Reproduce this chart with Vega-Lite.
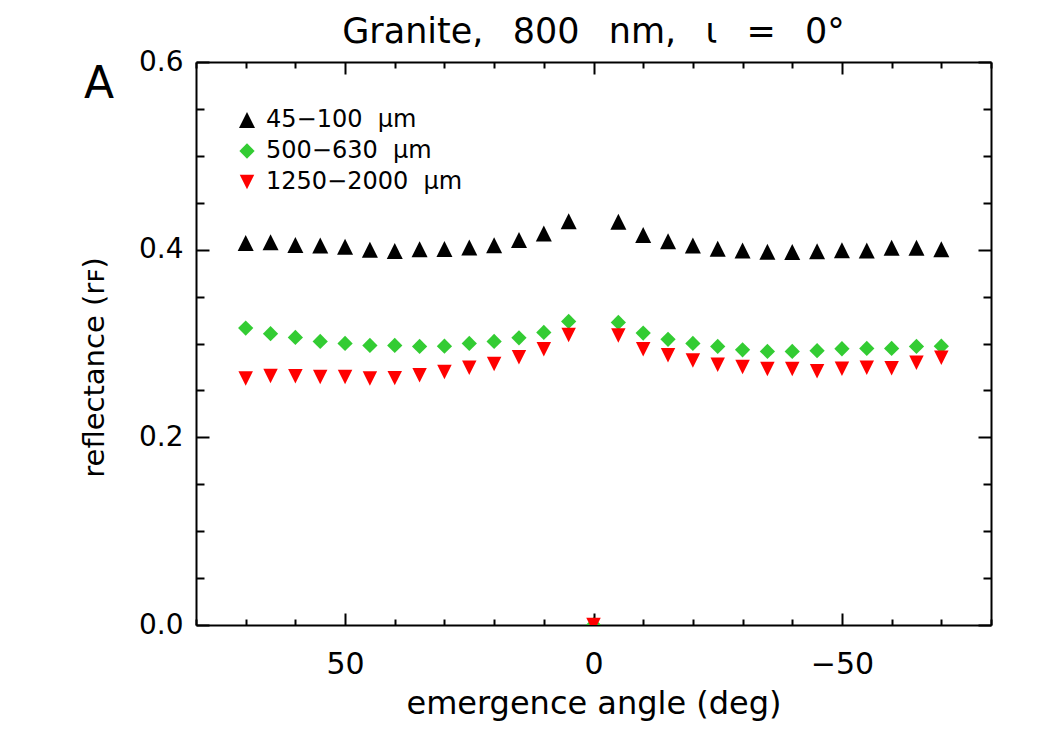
{
  "$schema": "https://vega.github.io/schema/vega-lite/v6.json",
  "width": 795,
  "height": 563,
  "autosize": {"type": "none"},
  "padding": {"left": 196, "top": 62, "right": 59, "bottom": 125},
  "background": "white",
  "config": {
    "view": {"stroke": null},
    "font": "DejaVu Sans",
    "axis": {
      "grid": false,
      "domainColor": "black",
      "domainWidth": 2,
      "tickColor": "black",
      "tickWidth": 2,
      "labelColor": "black",
      "labelFont": "DejaVu Sans",
      "labelFontWeight": "normal",
      "titleFont": "DejaVu Sans",
      "titleColor": "black",
      "titleFontWeight": "normal",
      "labelOverlap": false,
      "labelFlush": false,
      "labelBound": false
    },
    "legend": {
      "orient": "none",
      "legendX": 39,
      "legendY": 46,
      "padding": 0,
      "labelFont": "DejaVu Sans",
      "labelFontSize": 24,
      "labelFontWeight": "normal",
      "labelColor": "black",
      "labelLimit": 500,
      "labelOffset": 7,
      "rowPadding": 7,
      "symbolSize": 190,
      "symbolStrokeWidth": 0,
      "symbolOpacity": 1
    }
  },
  "title": {
    "text": "Granite,\u00a0\u2009 800\u00a0\u2009 nm,\u00a0\u2009 ι\u00a0\u2009 =\u00a0\u2009 0°",
    "font": "DejaVu Sans",
    "fontSize": 35,
    "fontWeight": "normal",
    "color": "black",
    "anchor": "middle",
    "offset": -2
  },
  "data": {
    "values": [
      {"angle": 70, "reflectance": 0.407, "grain": "45−100 μm"},
      {"angle": 65, "reflectance": 0.408, "grain": "45−100 μm"},
      {"angle": 60, "reflectance": 0.405, "grain": "45−100 μm"},
      {"angle": 55, "reflectance": 0.4045, "grain": "45−100 μm"},
      {"angle": 50, "reflectance": 0.403, "grain": "45−100 μm"},
      {"angle": 45, "reflectance": 0.4, "grain": "45−100 μm"},
      {"angle": 40, "reflectance": 0.3985, "grain": "45−100 μm"},
      {"angle": 35, "reflectance": 0.4005, "grain": "45−100 μm"},
      {"angle": 30, "reflectance": 0.4007, "grain": "45−100 μm"},
      {"angle": 25, "reflectance": 0.4023, "grain": "45−100 μm"},
      {"angle": 20, "reflectance": 0.4046, "grain": "45−100 μm"},
      {"angle": 15, "reflectance": 0.4103, "grain": "45−100 μm"},
      {"angle": 10, "reflectance": 0.4172, "grain": "45−100 μm"},
      {"angle": 5, "reflectance": 0.4302, "grain": "45−100 μm"},
      {"angle": 0, "reflectance": 0, "grain": "45−100 μm"},
      {"angle": -5, "reflectance": 0.4297, "grain": "45−100 μm"},
      {"angle": -10, "reflectance": 0.4156, "grain": "45−100 μm"},
      {"angle": -15, "reflectance": 0.4089, "grain": "45−100 μm"},
      {"angle": -20, "reflectance": 0.4045, "grain": "45−100 μm"},
      {"angle": -25, "reflectance": 0.4011, "grain": "45−100 μm"},
      {"angle": -30, "reflectance": 0.3991, "grain": "45−100 μm"},
      {"angle": -35, "reflectance": 0.3977, "grain": "45−100 μm"},
      {"angle": -40, "reflectance": 0.3975, "grain": "45−100 μm"},
      {"angle": -45, "reflectance": 0.3982, "grain": "45−100 μm"},
      {"angle": -50, "reflectance": 0.3993, "grain": "45−100 μm"},
      {"angle": -55, "reflectance": 0.3991, "grain": "45−100 μm"},
      {"angle": -60, "reflectance": 0.402, "grain": "45−100 μm"},
      {"angle": -65, "reflectance": 0.402, "grain": "45−100 μm"},
      {"angle": -70, "reflectance": 0.4004, "grain": "45−100 μm"},

      {"angle": 70, "reflectance": 0.3164, "grain": "500−630 μm"},
      {"angle": 65, "reflectance": 0.3104, "grain": "500−630 μm"},
      {"angle": 60, "reflectance": 0.3065, "grain": "500−630 μm"},
      {"angle": 55, "reflectance": 0.3022, "grain": "500−630 μm"},
      {"angle": 50, "reflectance": 0.3001, "grain": "500−630 μm"},
      {"angle": 45, "reflectance": 0.298, "grain": "500−630 μm"},
      {"angle": 40, "reflectance": 0.298, "grain": "500−630 μm"},
      {"angle": 35, "reflectance": 0.2969, "grain": "500−630 μm"},
      {"angle": 30, "reflectance": 0.2972, "grain": "500−630 μm"},
      {"angle": 25, "reflectance": 0.3001, "grain": "500−630 μm"},
      {"angle": 20, "reflectance": 0.3022, "grain": "500−630 μm"},
      {"angle": 15, "reflectance": 0.3061, "grain": "500−630 μm"},
      {"angle": 10, "reflectance": 0.3118, "grain": "500−630 μm"},
      {"angle": 5, "reflectance": 0.3235, "grain": "500−630 μm"},
      {"angle": 0, "reflectance": 0, "grain": "500−630 μm"},
      {"angle": -5, "reflectance": 0.3225, "grain": "500−630 μm"},
      {"angle": -10, "reflectance": 0.3111, "grain": "500−630 μm"},
      {"angle": -15, "reflectance": 0.3044, "grain": "500−630 μm"},
      {"angle": -20, "reflectance": 0.3001, "grain": "500−630 μm"},
      {"angle": -25, "reflectance": 0.2969, "grain": "500−630 μm"},
      {"angle": -30, "reflectance": 0.2933, "grain": "500−630 μm"},
      {"angle": -35, "reflectance": 0.2916, "grain": "500−630 μm"},
      {"angle": -40, "reflectance": 0.2916, "grain": "500−630 μm"},
      {"angle": -45, "reflectance": 0.2923, "grain": "500−630 μm"},
      {"angle": -50, "reflectance": 0.2944, "grain": "500−630 μm"},
      {"angle": -55, "reflectance": 0.2948, "grain": "500−630 μm"},
      {"angle": -60, "reflectance": 0.2948, "grain": "500−630 μm"},
      {"angle": -65, "reflectance": 0.2969, "grain": "500−630 μm"},
      {"angle": -70, "reflectance": 0.2972, "grain": "500−630 μm"},

      {"angle": 70, "reflectance": 0.2626, "grain": "1250−2000 μm"},
      {"angle": 65, "reflectance": 0.2654, "grain": "1250−2000 μm"},
      {"angle": 60, "reflectance": 0.2651, "grain": "1250−2000 μm"},
      {"angle": 55, "reflectance": 0.2642, "grain": "1250−2000 μm"},
      {"angle": 50, "reflectance": 0.2642, "grain": "1250−2000 μm"},
      {"angle": 45, "reflectance": 0.2628, "grain": "1250−2000 μm"},
      {"angle": 40, "reflectance": 0.2631, "grain": "1250−2000 μm"},
      {"angle": 35, "reflectance": 0.2661, "grain": "1250−2000 μm"},
      {"angle": 30, "reflectance": 0.2695, "grain": "1250−2000 μm"},
      {"angle": 25, "reflectance": 0.2741, "grain": "1250−2000 μm"},
      {"angle": 20, "reflectance": 0.2782, "grain": "1250−2000 μm"},
      {"angle": 15, "reflectance": 0.2853, "grain": "1250−2000 μm"},
      {"angle": 10, "reflectance": 0.294, "grain": "1250−2000 μm"},
      {"angle": 5, "reflectance": 0.309, "grain": "1250−2000 μm"},
      {"angle": 0, "reflectance": 0, "grain": "1250−2000 μm"},
      {"angle": -5, "reflectance": 0.3086, "grain": "1250−2000 μm"},
      {"angle": -10, "reflectance": 0.294, "grain": "1250−2000 μm"},
      {"angle": -15, "reflectance": 0.2876, "grain": "1250−2000 μm"},
      {"angle": -20, "reflectance": 0.2819, "grain": "1250−2000 μm"},
      {"angle": -25, "reflectance": 0.2773, "grain": "1250−2000 μm"},
      {"angle": -30, "reflectance": 0.275, "grain": "1250−2000 μm"},
      {"angle": -35, "reflectance": 0.2727, "grain": "1250−2000 μm"},
      {"angle": -40, "reflectance": 0.2727, "grain": "1250−2000 μm"},
      {"angle": -45, "reflectance": 0.2704, "grain": "1250−2000 μm"},
      {"angle": -50, "reflectance": 0.2731, "grain": "1250−2000 μm"},
      {"angle": -55, "reflectance": 0.2741, "grain": "1250−2000 μm"},
      {"angle": -60, "reflectance": 0.2736, "grain": "1250−2000 μm"},
      {"angle": -65, "reflectance": 0.2795, "grain": "1250−2000 μm"},
      {"angle": -70, "reflectance": 0.2848, "grain": "1250−2000 μm"}
    ]
  },
  "layer": [
    {
      "mark": {"type": "point", "filled": true, "opacity": 1, "strokeWidth": 0, "clip": true},
      "encoding": {
        "x": {
          "field": "angle",
          "type": "quantitative",
          "scale": {"domain": [80, -80], "nice": false, "zero": false},
          "axis": {
            "orient": "bottom",
            "values": [80, 70, 60, 50, 40, 30, 20, 10, 0, -10, -20, -30, -40, -50, -60, -70, -80],
            "labelExpr": "datum.value % 50 === 0 ? datum.label : ''",
            "labelFontSize": 30,
            "labelPadding": 36,
            "tickSize": {"condition": {"test": "datum.value % 50 === 0", "value": -12}, "value": -6},
            "title": "emergence angle (deg)",
            "titleFontSize": 32,
            "titleBaseline": "alphabetic",
            "titleY": 88
          }
        },
        "y": {
          "field": "reflectance",
          "type": "quantitative",
          "scale": {"domain": [0, 0.6], "nice": false, "zero": false},
          "axis": {
            "orient": "left",
            "values": [0, 0.05, 0.1, 0.15, 0.2, 0.25, 0.3, 0.35, 0.4, 0.45, 0.5, 0.55, 0.6],
            "labelExpr": "round(datum.value * 20) % 4 === 0 ? format(datum.value, '.1f') : ''",
            "labelFontSize": 28,
            "labelPadding": 26,
            "tickSize": {"condition": {"test": "round(datum.value * 20) % 4 === 0", "value": -13}, "value": -8},
            "title": "reflectance (rꜰ)",
            "titleFontSize": 29,
            "titleAngle": 270,
            "titleBaseline": "alphabetic",
            "titleAlign": "center",
            "titleX": -93,
            "titleY": 305
          }
        },
        "color": {
          "field": "grain",
          "type": "nominal",
          "scale": {"domain": ["45−100 μm", "500−630 μm", "1250−2000 μm"], "range": ["#000000", "#33cc33", "#ff0000"]},
          "legend": {"title": null, "labelExpr": "replace(datum.label, ' ', '\u00a0\u00a0')"}
        },
        "shape": {
          "field": "grain",
          "type": "nominal",
          "scale": {
            "domain": ["45−100 μm", "500−630 μm", "1250−2000 μm"],
            "range": ["M0,-1L1,1L-1,1Z", "M0,-1L1,0L0,1L-1,0Z", "M-1,-1L1,-1L0,1Z"]
          },
          "legend": {"title": null, "labelExpr": "replace(datum.label, ' ', '\u00a0\u00a0')"}
        },
        "size": {
          "field": "grain",
          "type": "nominal",
          "scale": {"domain": ["45−100 μm", "500−630 μm", "1250−2000 μm"], "range": [256, 210, 256]},
          "legend": null
        }
      }
    },
    {
      "data": {"values": [{"panel": "A"}]},
      "mark": {"type": "text", "fontSize": 44, "font": "DejaVu Sans", "fontWeight": "normal", "color": "black", "align": "center", "baseline": "middle"},
      "encoding": {
        "text": {"field": "panel"},
        "x": {
          "datum": 99.5,
          "type": "quantitative",
          "scale": {"domain": [80, -80], "nice": false, "zero": false},
          "axis": {
            "orient": "top",
            "values": [80, 70, 60, 50, 40, 30, 20, 10, 0, -10, -20, -30, -40, -50, -60, -70, -80],
            "labels": false,
            "title": null,
            "tickSize": {"condition": {"test": "datum.value % 50 === 0", "value": -12}, "value": -6}
          }
        },
        "y": {
          "datum": 0.576,
          "type": "quantitative",
          "scale": {"domain": [0, 0.6], "nice": false, "zero": false},
          "axis": {
            "orient": "right",
            "values": [0, 0.05, 0.1, 0.15, 0.2, 0.25, 0.3, 0.35, 0.4, 0.45, 0.5, 0.55, 0.6],
            "labels": false,
            "title": null,
            "tickSize": {"condition": {"test": "round(datum.value * 20) % 4 === 0", "value": -13}, "value": -8}
          }
        }
      }
    }
  ],
  "resolve": {"axis": {"x": "independent", "y": "independent"}}
}
